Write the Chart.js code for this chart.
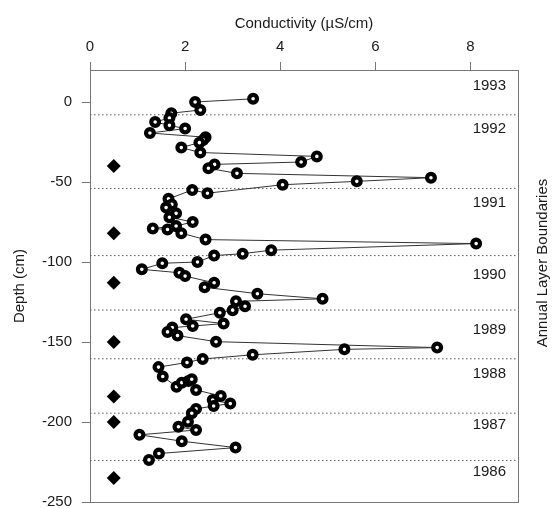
<!DOCTYPE html>
<html>
<head>
<meta charset="utf-8">
<script src="https://cdn.jsdelivr.net/npm/chart.js@4"></script>
<style>
  html, body { margin: 0; padding: 0; background: #fff; }
  #wrap { width: 556px; height: 508px; }
</style>
</head>
<body>
<div id="wrap"><canvas id="chart" width="556" height="508"></canvas></div>
<script>
// conductivity (uS/cm) and depth (cm), in sampling order
const conductivity = [3.43, 2.21, 2.32, 1.71, 1.67, 1.37, 1.67, 2.00, 1.26, 2.43, 2.38, 2.30, 1.92, 2.32, 4.77, 4.44, 2.62, 2.49, 3.09, 7.17,
    5.61, 4.05, 2.47, 2.15, 1.65, 1.72, 1.60, 1.81, 1.67, 2.16, 1.81, 1.32, 1.63, 1.92, 2.43, 8.12, 3.81, 3.21, 2.61, 2.26,
    1.52, 1.09, 1.88, 2.00, 2.61, 2.41, 3.52, 4.89, 3.07, 3.26, 3.00, 2.73, 2.02, 2.81, 2.16, 1.73, 1.63, 1.84, 2.65, 7.30,
    5.35, 3.42, 2.37, 2.04, 1.44, 1.53, 1.82, 1.93, 2.07, 2.14, 2.23, 2.75, 2.58, 2.95, 2.60, 2.23, 2.14, 2.06, 1.86, 2.23,
    1.04, 1.93, 3.06, 1.45, 1.24];
const depth = [2, 0, -5, -7, -10, -12.5, -14.6, -16.6, -19.4, -22, -23.7, -25.4, -28.5, -31.6, -34, -37.5, -39, -41.4, -44.6, -47.3,
    -49.6, -51.7, -57, -55, -60.5, -64, -66, -69.6, -72, -75, -77.5, -79, -79.7, -82, -86, -88.5, -92.6, -94.8, -96, -100,
    -100.8, -104.6, -106.7, -108.8, -113, -115.8, -119.8, -123, -124.6, -127.7, -130.1, -131.7, -135.8, -138.5, -140, -141, -143.7, -146, -149.8, -153.5,
    -154.6, -158, -160.6, -162.8, -165.7, -171.6, -177.9, -175.4, -174.4, -173.3, -180, -183.7, -186.3, -188.5, -190, -191.8, -194.5, -199.8, -203, -205,
    -208, -212, -216, -219.7, -223.7];

// diamond markers
const markerX = 0.5;
const markerDepth = [-40, -82, -113, -150, -184, -200, -235];

// annual layer boundaries and year labels
const boundaries = [-8, -54, -96, -130, -160.5, -194.5, -224];
const years = ['1993', '1992', '1991', '1990', '1989', '1988', '1987', '1986'];
const yearDepths = [10, -17, -63, -108, -142.5, -170, -202, -231];

const xTicks = [0, 2, 4, 6, 8];
const yTicks = [-250, -200, -150, -100, -50, 0];

const FONT = '"Liberation Sans", Arial, sans-serif';
const AXIS = '#777';
const TEXT = '#1a1a1a';

document.addEventListener('DOMContentLoaded', () => {
    const ctx = document.getElementById('chart').getContext('2d');

    const points = conductivity.map((c, i) => ({ x: c, y: depth[i] }));
    const diamonds = markerDepth.map(d => ({ x: markerX, y: d }));

    const boundarySets = boundaries.map(b => ({
        data: [{ x: 0, y: b }, { x: 9, y: b }],
        showLine: true,
        borderColor: '#555',
        borderWidth: 1,
        borderDash: [1.5, 2.5],
        pointRadius: 0,
    }));

    const frame = {
        id: 'frame',
        // stretch the plot down to y=502 like the original
        afterLayout(chart) {
            const y = chart.scales.y;
            chart.chartArea.bottom = 502;
            chart.chartArea.height = 502 - chart.chartArea.top;
            y.bottom = 502;
            y.height = y.bottom - y.top;
            y.configure();
        },
        afterDraw(chart) {
            const { ctx, chartArea: a, scales: { y } } = chart;
            ctx.save();
            ctx.strokeStyle = AXIS;
            ctx.lineWidth = 1;
            ctx.beginPath();
            ctx.moveTo(a.right + 0.5, a.top);
            ctx.lineTo(a.right + 0.5, a.bottom + 1);
            ctx.moveTo(a.left, a.bottom + 0.5);
            ctx.lineTo(a.right, a.bottom + 0.5);
            ctx.stroke();

            ctx.fillStyle = TEXT;
            ctx.font = '15px ' + FONT;
            ctx.textAlign = 'right';
            ctx.textBaseline = 'middle';
            years.forEach((yr, i) => {
                ctx.fillText(yr, a.right - 12, y.getPixelForValue(yearDepths[i]));
            });

            ctx.translate(543, 263);
            ctx.rotate(-Math.PI / 2);
            ctx.textAlign = 'center';
            ctx.fillText('Annual Layer Boundaries', 0, 0);
            ctx.restore();
        }
    };

    new Chart(ctx, {
        type: 'scatter',
        data: {
            datasets: [
                {
                    data: points,
                    showLine: true,
                    borderColor: '#333',
                    borderWidth: 1,
                    pointRadius: 3.9,
                    pointBorderWidth: 4.2,
                    pointBackgroundColor: '#fff',
                    pointBorderColor: '#000',
                },
                {
                    data: diamonds,
                    pointStyle: 'rectRot',
                    pointRadius: 7,
                    pointBackgroundColor: '#000',
                    pointBorderColor: '#000',
                    pointBorderWidth: 0,
                },
                ...boundarySets,
            ]
        },
        options: {
            responsive: false,
            animation: false,
            layout: { padding: { left: 0, top: 0, right: 38, bottom: 6 } },
            plugins: {
                legend: { display: false },
                tooltip: { enabled: false },
            },
            scales: {
                x: {
                    type: 'linear',
                    position: 'top',
                    min: 0,
                    max: 9,
                    afterFit: s => { s.height = 70; s.paddingLeft = 0; s.paddingRight = 0; },
                    afterBuildTicks: s => { s.ticks = xTicks.map(v => ({ value: v })); },
                    border: { display: true, color: AXIS },
                    grid: { drawOnChartArea: false, tickLength: 8, color: AXIS },
                    ticks: { font: { size: 15, family: FONT }, color: TEXT, padding: 6 },
                    title: {
                        display: true,
                        text: 'Conductivity (\u00b5S/cm)',
                        font: { size: 15, family: FONT },
                        color: TEXT,
                        padding: { top: 15, bottom: 0 },
                    },
                },
                y: {
                    type: 'linear',
                    min: -250,
                    max: 20,
                    afterFit: s => { s.width = 90; s.paddingTop = 0; s.paddingBottom = 0; },
                    afterBuildTicks: s => { s.ticks = yTicks.map(v => ({ value: v })); },
                    border: { display: true, color: AXIS },
                    grid: { drawOnChartArea: false, tickLength: 8, color: AXIS },
                    ticks: { font: { size: 15, family: FONT }, color: TEXT, padding: 10 },
                    title: {
                        display: true,
                        text: 'Depth (cm)',
                        font: { size: 15, family: FONT },
                        color: TEXT,
                        padding: { top: 11, bottom: 0 },
                    },
                },
            },
        },
        plugins: [frame],
    });
});
</script>
</body>
</html>
